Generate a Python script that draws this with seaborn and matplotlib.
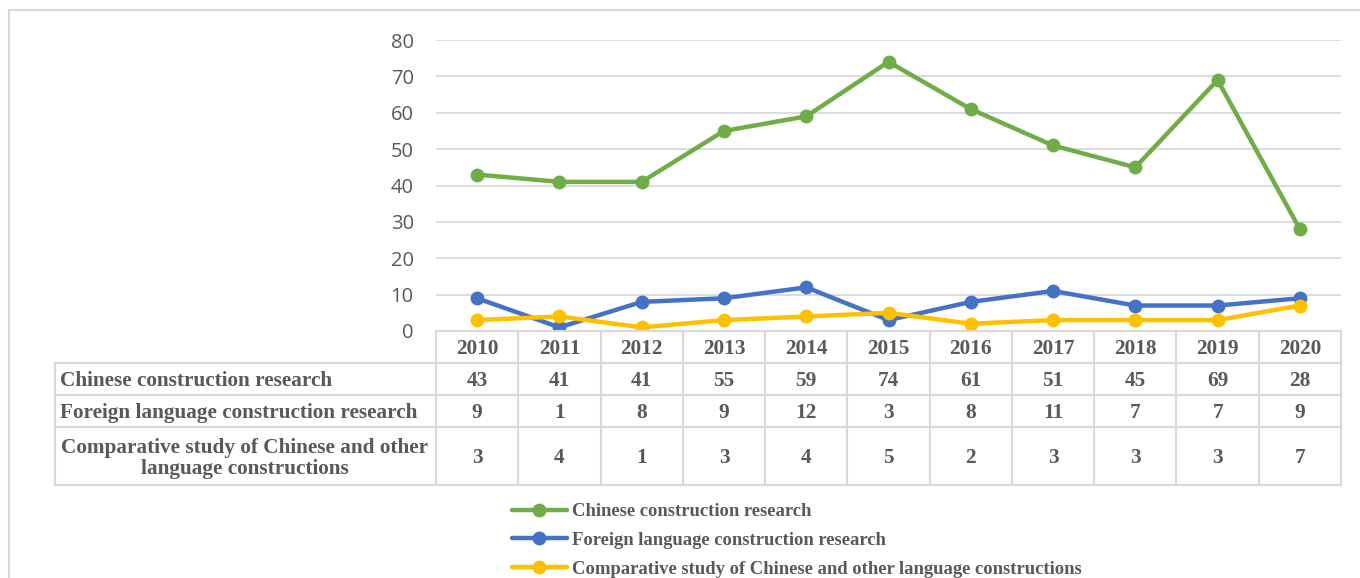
import matplotlib
matplotlib.use("Agg")
import matplotlib.pyplot as plt
import matplotlib.transforms as mtransforms
from matplotlib.patches import Rectangle
from matplotlib.lines import Line2D
import seaborn as sns
import pandas as pd

years = [2010, 2011, 2012, 2013, 2014, 2015, 2016, 2017, 2018, 2019, 2020]
series_names = [
    "Chinese construction research",
    "Foreign language construction research",
    "Comparative study of Chinese and other language constructions",
]
chinese = [43, 41, 41, 55, 59, 74, 61, 51, 45, 69, 28]
foreign = [9, 1, 8, 9, 12, 3, 8, 11, 7, 7, 9]
comparative = [3, 4, 1, 3, 4, 5, 2, 3, 3, 3, 7]
yticks = [0, 10, 20, 30, 40, 50, 60, 70, 80]
colors = ["#70AD47", "#4472C4", "#FFC000"]
table_labels = [
    "Chinese construction research",
    "Foreign language construction research",
    "Comparative study of Chinese and other\nlanguage constructions",
]

sns.set_style("white")
plt.rcParams["font.family"] = ["DejaVu Sans"]

W, H = 1360, 578
fig = plt.figure(figsize=(W / 100, H / 100), dpi=100)


def fx(x):
    return x / W


def fy(y):
    return 1 - y / H


L, R, T, B = 436, 1341, 40, 331
ax = fig.add_axes([fx(L), fy(B), fx(R) - fx(L), fy(T) - fy(B)])

series_vals = [chinese, foreign, comparative]
df = pd.DataFrame({
    "pos": list(range(len(years))) * 3,
    "value": chinese + foreign + comparative,
    "series": sum([[n] * len(years) for n in series_names], []),
})
sns.lineplot(data=df, x="pos", y="value", hue="series", hue_order=series_names,
             palette=colors, marker="o", markersize=10, markeredgewidth=0,
             linewidth=3.2, ax=ax, legend=False, sort=False)

ax.set_xlim(-0.5, len(years) - 0.5)
ax.set_ylim(0, 80)
ax.set_yticks(yticks)
ax.set_yticklabels([str(v) for v in yticks], fontfamily="Open Sans",
                   fontsize=14.5, color="#595959")
ax.set_xticks([])
ax.set_xlabel("")
ax.set_ylabel("")
ax.tick_params(axis="y", length=0, pad=16)
ax.grid(axis="y", color="#D9D9D9", linewidth=1.3)
ax.set_axisbelow(True)
for s in ax.spines.values():
    s.set_visible(False)

# chart border
fig.patches.append(Rectangle((fx(9), fy(H + 5)), fx(W + 10) - fx(9), fy(10) - fy(H + 5),
                             transform=fig.transFigure, fill=False,
                             edgecolor="#D9D9D9", linewidth=1.5))

# data table
gc = "#D9D9D9"
lw = 1.5
trans = mtransforms.blended_transform_factory(ax.transData, fig.transFigure)
row_edges = [331, 363, 395, 427, 485]
tfont = dict(family="Liberation Serif", weight="bold", color="#595959", fontsize=15.3)
n = len(years)
# horizontal lines
fig.add_artist(Line2D([fx(L), fx(R)], [fy(331)] * 2, color=gc, lw=lw))
for y in row_edges[1:]:
    fig.add_artist(Line2D([fx(55), fx(R)], [fy(y)] * 2, color=gc, lw=lw))
# vertical lines
for k in range(n + 1):
    fig.add_artist(Line2D([k - 0.5, k - 0.5], [fy(331), fy(485)], color=gc, lw=lw,
                          transform=trans))
fig.add_artist(Line2D([fx(55)] * 2, [fy(363), fy(485)], color=gc, lw=lw))

for j, yr in enumerate(years):
    fig.text(j, fy(349), str(yr), transform=trans, ha="center", va="center", **tfont)
row_centers = [381, 413, 458]
for i, vals in enumerate(series_vals):
    for j, v in enumerate(vals):
        fig.text(j, fy(row_centers[i]), str(v), transform=trans, ha="center",
                 va="center", **tfont)
fig.text(fx(60), fy(381), table_labels[0], ha="left", va="center", **tfont)
fig.text(fx(60), fy(413), table_labels[1], ha="left", va="center", **tfont)
fig.text(fx(245), fy(458.5), table_labels[2], ha="center", va="center",
         multialignment="center", linespacing=1.12, **tfont)

# legend
handles = [Line2D([], [], color=c, lw=3.2, marker="o", markersize=10,
                  markeredgewidth=0) for c in colors]
leg = fig.legend(handles, series_names, loc="upper left",
                 bbox_to_anchor=(fx(512), fy(503)), frameon=False,
                 handlelength=2.95, handletextpad=0.27, labelspacing=0.64,
                 borderaxespad=0, borderpad=0,
                 prop=dict(family="Liberation Serif", weight="bold", size=13.4))
for t in leg.get_texts():
    t.set_color("#595959")

fig.savefig("out.png", dpi=100)
